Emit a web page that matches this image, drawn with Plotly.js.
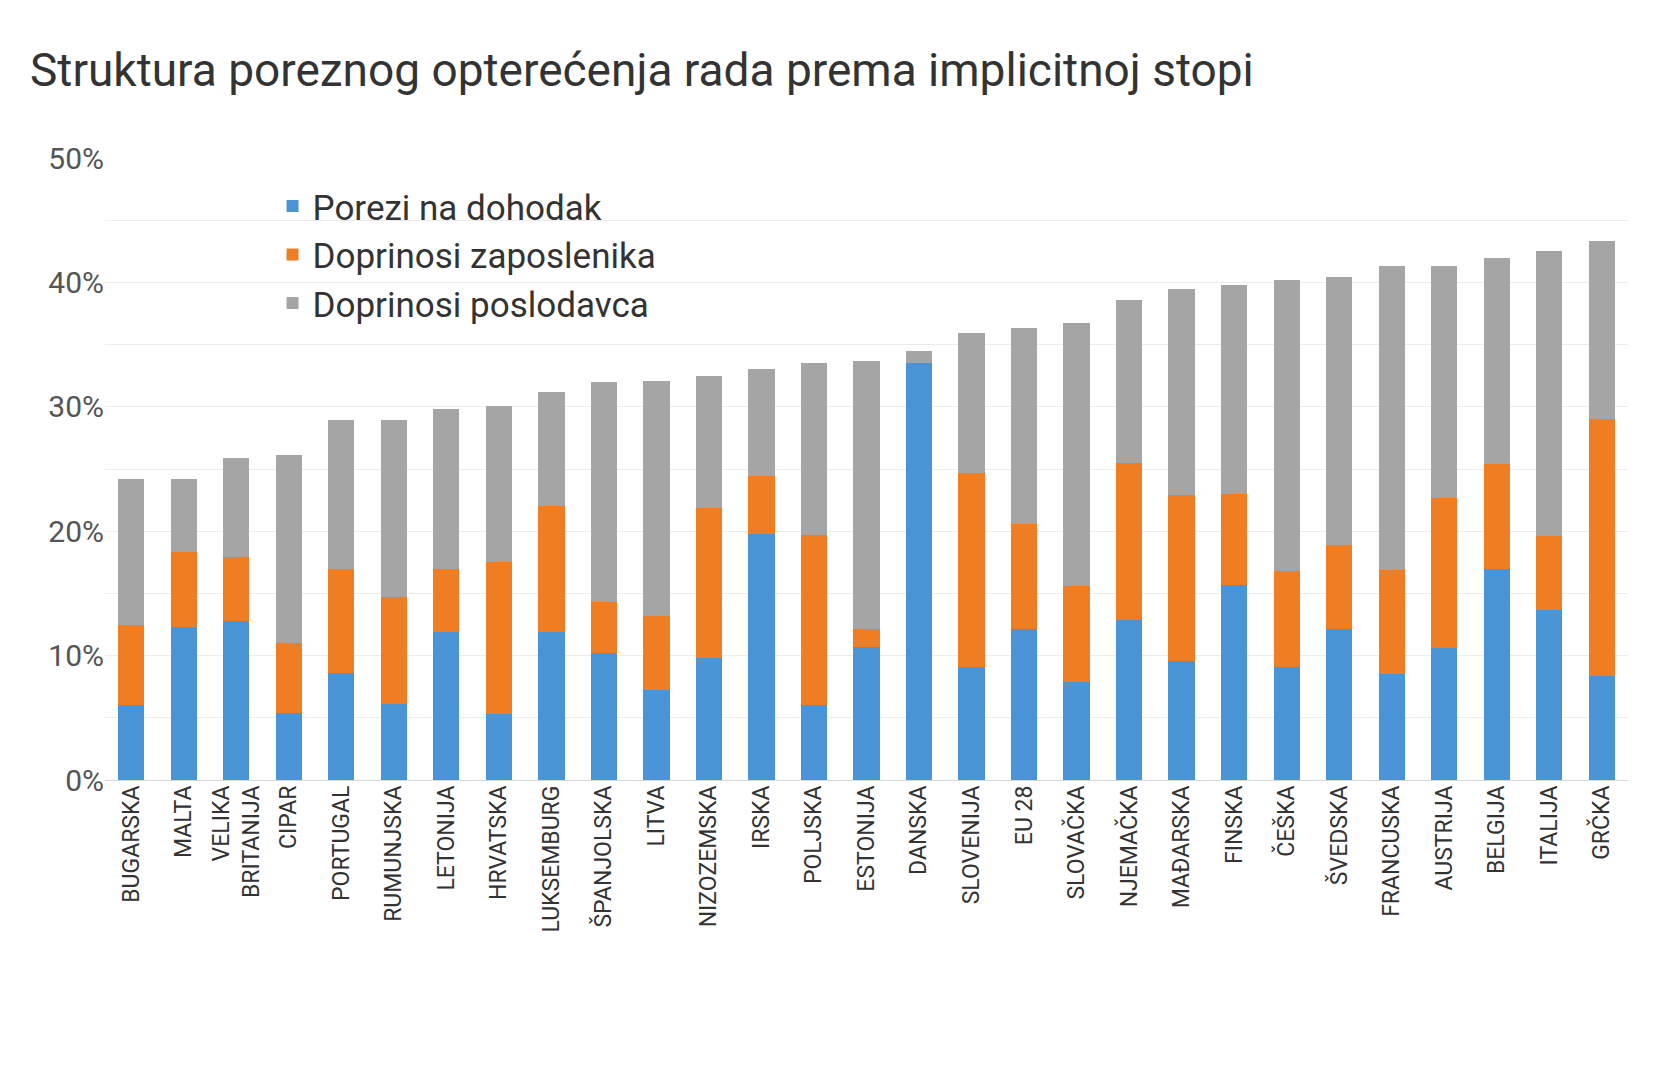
<!DOCTYPE html>
<html>
<head>
<meta charset="utf-8">
<script src="https://cdn.plot.ly/plotly-3.0.1.min.js"></script>
<style>body{margin:0;background:#fff}</style>
</head>
<body>
<div id="chart" style="width:1668px;height:1080px"></div>
<script>
// country labels, in bar order
const countries = ['BUGARSKA','MALTA','VELIKA<br>BRITANIJA','CIPAR','PORTUGAL','RUMUNJSKA','LETONIJA','HRVATSKA',
  'LUKSEMBURG','ŠPANJOLSKA','LITVA','NIZOZEMSKA','IRSKA','POLJSKA','ESTONIJA','DANSKA','SLOVENIJA','EU 28',
  'SLOVAČKA','NJEMAČKA','MAĐARSKA','FINSKA','ČEŠKA','ŠVEDSKA','FRANCUSKA','AUSTRIJA','BELGIJA','ITALIJA','GRČKA'];
// percent of labour cost
const porezi = [6.0,12.3,12.8,5.4,8.6,6.1,11.9,5.3,11.9,10.2,7.2,9.8,19.8,6.0,10.7,33.5,9.1,12.1,7.9,12.9,9.6,15.7,9.1,12.1,8.5,10.6,17.0,13.7,8.4];
const zaposlenik = [6.5,6.0,5.1,5.6,8.4,8.6,5.1,12.2,10.1,4.1,6.0,12.1,4.6,13.7,1.4,0.0,15.6,8.5,7.7,12.6,13.3,7.3,7.7,6.8,8.4,12.1,8.4,5.9,20.6];
const poslodavac = [11.7,5.9,8.0,15.1,11.9,14.2,12.8,12.6,9.2,17.7,18.9,10.6,8.6,13.8,21.6,1.0,11.2,15.7,21.1,13.1,16.6,16.8,23.4,21.5,24.4,18.6,16.6,22.9,14.3];

const font = 'Roboto, "DejaVu Sans", sans-serif';
function bar(name, vals, color) {
  return {type: 'bar', name: name, x: countries, y: vals, marker: {color: color}, width: 0.5,
    hovertemplate: '%{y:.1f}%<extra>' + name + '</extra>'};
}
const data = [
  bar('Porezi na dohodak', porezi, '#4a94d6'),
  bar('Doprinosi zaposlenika', zaposlenik, '#ee7d23'),
  bar('Doprinosi poslodavca', poslodavac, '#a5a5a5')
];
const layout = {
  barmode: 'stack',
  font: {family: font, color: '#333', size: 26},
  title: {text: 'Struktura poreznog opterećenja rada prema implicitnoj stopi', x: 0.018, xanchor: 'left', y: 0.95,
    font: {size: 46, color: '#333'}},
  margin: {l: 105, r: 40, t: 158, b: 300},
  xaxis: {tickangle: -90, tickfont: {size: 23}, showline: false, ticks: ''},
  yaxis: {range: [0, 50], ticksuffix: '%', tickfont: {size: 30, color: '#555'},
    gridcolor: '#ececec', zeroline: true, zerolinecolor: '#d9d9d9',
    tickvals: [0,5,10,15,20,25,30,35,40,45,50], ticktext: ['0%','','10%','','20%','','30%','','40%','','50%']},
  legend: {x: 0.11, y: 0.97, xanchor: 'left', yanchor: 'top', font: {size: 35}, traceorder: 'normal', bgcolor: 'rgba(255,255,255,0)'},
  bargap: 0.5,
  plot_bgcolor: '#fff', paper_bgcolor: '#fff'
};
Plotly.newPlot('chart', data, layout, {displayModeBar: false});
</script>
</body>
</html>
